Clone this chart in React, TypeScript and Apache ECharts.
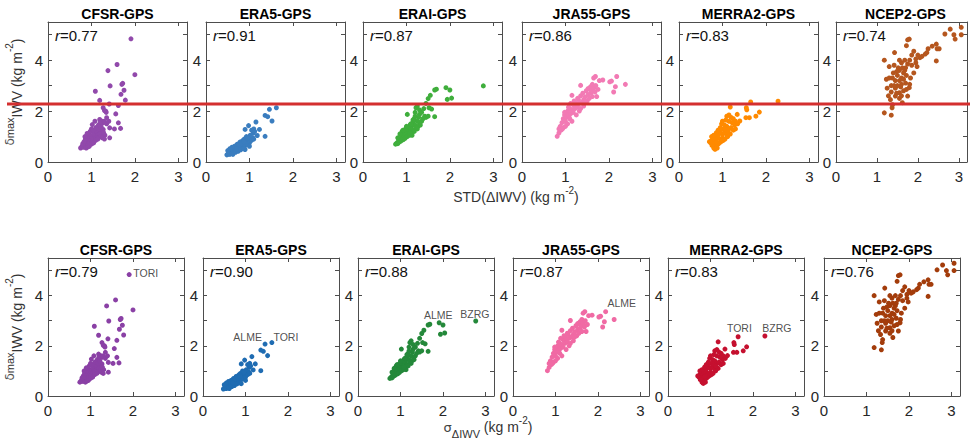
import React, { useEffect, useRef } from 'react';
import * as echarts from 'echarts';

const panelTitles = ['CFSR-GPS', 'ERA5-GPS', 'ERAI-GPS', 'JRA55-GPS', 'MERRA2-GPS', 'NCEP2-GPS'];
const rTop = ['0.77', '0.91', '0.87', '0.86', '0.83', '0.74'];
const rBottom = ['0.79', '0.90', '0.88', '0.87', '0.83', '0.76'];
const colorsTop = ['#9149ab', '#3a7dbf', '#3fae3c', '#f27ab4', '#ff8a00', '#b5561e'];
const colorsBottom = ['#8a40a5', '#1f6cb2', '#24883a', '#f06aa4', '#c5102f', '#a33c0b'];
const yTickLabels = [0, 2, 4];
const xTickLabels = [0, 1, 2, 3];

const cfsr: number[][] = [
  [1.91, 4.84], [1.59, 3.83], [1.38, 3.59], [2.0, 3.43], [1.43, 2.99], [1.72, 3.09], [1.70, 3.05], [1.68, 2.66],
  [1.75, 2.82], [1.09, 2.78], [1.19, 2.42], [1.78, 2.43], [1.62, 2.22], [1.41, 2.28], [1.27, 2.13], [1.33, 2.0],
  [1.34, 1.95], [1.30, 2.02], [1.56, 1.89], [1.19, 1.67], [1.35, 1.74], [1.27, 1.54], [1.62, 1.54], [1.02, 1.47],
  [1.08, 1.6], [1.16, 1.45], [1.42, 1.34], [1.53, 1.30], [1.67, 1.32], [1.20, 1.2], [1.27, 1.28], [1.42, 0.95],
  [1.31, 1.05], [1.12, 1.1], [1.25, 1.12], [0.75, 0.55], [0.78, 0.6], [0.8, 0.65], [0.82, 0.58], [0.85, 0.7],
  [0.87, 0.62], [0.88, 0.75], [0.9, 0.8], [0.92, 0.68], [0.93, 0.85], [0.95, 0.9], [0.96, 0.75], [0.98, 0.95],
  [1.0, 0.88], [1.0, 1.0], [1.02, 0.8], [1.03, 1.05], [1.05, 0.92], [1.06, 1.12], [1.08, 1.0], [1.1, 0.95],
  [1.12, 1.2], [1.15, 1.05], [1.17, 0.98], [1.2, 1.1], [1.22, 1.0], [1.25, 0.95], [1.28, 1.15], [1.3, 0.9],
  [0.8, 0.72], [0.83, 0.8], [0.86, 0.9], [0.9, 1.0], [0.94, 1.1], [0.97, 1.2], [1.0, 1.3], [1.04, 1.25],
  [1.1, 1.35], [0.88, 0.55], [0.92, 0.6], [0.95, 0.62], [1.0, 0.7], [1.05, 0.75], [1.1, 0.85], [1.15, 0.9],
  [0.85, 1.0], [0.9, 1.12], [1.18, 1.3], [1.22, 1.4], [1.25, 1.6], [1.2, 1.55], [1.3, 1.6], [1.35, 1.5], [1.4, 1.6],
];

const era5: number[][] = [
  [1.46, 2.07], [1.62, 2.13], [1.36, 1.83], [1.42, 1.78], [1.52, 1.61], [1.15, 1.57], [0.98, 1.43], [0.9, 1.28],
  [1.23, 1.28], [1.36, 1.01], [1.18, 1.04], [1.09, 1.14], [0.9, 0.49], [1.05, 1.25], [1.1, 1.3], [1.12, 1.2],
  [1.05, 0.95], [1.0, 1.0], [0.98, 0.85], [0.95, 0.9], [0.92, 0.8], [0.9, 0.75], [0.88, 0.9], [0.85, 0.7],
  [0.82, 0.8], [0.8, 0.65], [0.78, 0.72], [0.75, 0.6], [0.72, 0.55], [0.7, 0.65], [0.68, 0.5], [0.65, 0.55],
  [0.62, 0.45], [0.6, 0.5], [0.58, 0.4], [0.55, 0.45], [0.52, 0.35], [0.5, 0.3], [0.48, 0.28], [0.55, 0.3],
  [0.6, 0.35], [0.65, 0.4], [0.7, 0.45], [0.75, 0.5], [0.8, 0.55], [0.85, 0.6], [0.9, 0.65], [0.95, 0.7],
  [1.0, 0.75], [1.05, 0.85], [1.08, 0.95], [1.02, 1.05], [0.93, 1.0], [0.85, 0.85], [0.78, 0.78], [0.72, 0.7],
  [0.66, 0.62], [0.6, 0.58], [0.55, 0.52], [0.5, 0.45], [0.62, 0.3], [0.68, 0.38], [0.74, 0.42], [0.8, 0.48],
  [0.88, 0.52], [1.0, 0.62], [1.1, 0.9], [0.7, 0.52], [0.76, 0.68], [0.83, 0.72], [0.87, 0.78], [0.96, 0.95],
];

const erai: number[][] = [
  [2.77, 2.99], [1.69, 2.86], [1.65, 2.83], [1.91, 2.92], [2.0, 2.83], [1.94, 2.46], [2.04, 2.51], [1.55, 2.62],
  [1.5, 2.49], [1.45, 2.3], [1.52, 2.13], [1.58, 2.08], [1.65, 1.78], [1.42, 1.8], [1.22, 2.13], [1.25, 2.2],
  [1.02, 1.87], [1.3, 1.87], [1.35, 1.95], [1.4, 2.1], [1.3, 2.05], [1.2, 1.95], [1.28, 1.75], [1.25, 1.6],
  [1.3, 1.55], [1.18, 1.7], [1.15, 1.55], [1.2, 1.45], [1.12, 1.4], [1.08, 1.45], [1.1, 1.3], [1.05, 1.35],
  [1.05, 1.2], [1.0, 1.25], [1.0, 1.1], [0.98, 1.3], [0.95, 1.15], [0.95, 1.0], [0.92, 1.1], [0.9, 0.95],
  [0.9, 1.2], [0.88, 1.05], [0.85, 0.9], [0.85, 1.1], [0.82, 0.85], [0.8, 0.95], [0.78, 0.75], [0.8, 0.72],
  [0.75, 0.7], [0.83, 0.78], [0.87, 0.82], [0.93, 0.88], [0.97, 0.93], [1.02, 1.0], [1.07, 1.05], [1.12, 1.15],
  [1.17, 1.25], [1.22, 1.35], [1.27, 1.4], [1.32, 1.45], [1.35, 1.6], [1.38, 1.7], [1.45, 1.75], [1.5, 1.8],
  [1.15, 1.65], [1.2, 1.8], [1.1, 1.5], [1.0, 1.4], [0.92, 1.25], [1.13, 1.05], [1.25, 1.3], [1.18, 1.2], [1.08, 1.15],
];

const jra55: number[][] = [
  [2.38, 3.05], [2.18, 3.36], [2.06, 3.18], [2.02, 3.15], [2.15, 2.96], [2.11, 2.75], [1.86, 3.22], [1.69, 3.36],
  [1.65, 3.3], [1.78, 3.2], [1.58, 2.96], [1.52, 2.88], [1.72, 2.57], [1.62, 2.57], [1.35, 3.01], [1.15, 2.62],
  [1.42, 2.45], [1.32, 2.3], [1.18, 2.25], [1.04, 1.93], [0.85, 1.14], [0.81, 1.01], [0.95, 1.35], [0.9, 1.25],
  [0.88, 1.4], [0.92, 1.55], [0.95, 1.7], [0.98, 1.85], [1.0, 1.6], [1.02, 1.75], [1.05, 1.5], [1.05, 2.0],
  [1.08, 1.8], [1.1, 2.1], [1.12, 1.9], [1.15, 2.05], [1.18, 1.95], [1.2, 2.2], [1.22, 2.1], [1.25, 2.3],
  [1.28, 2.15], [1.3, 2.45], [1.32, 2.0], [1.35, 2.6], [1.38, 2.35], [1.4, 2.7], [1.42, 2.2], [1.45, 2.55],
  [1.48, 2.8], [1.5, 2.4], [1.52, 2.65], [1.55, 2.9], [1.58, 2.7], [1.6, 2.8], [1.62, 3.05], [1.65, 2.9],
  [1.68, 2.75], [1.7, 3.0], [1.75, 2.85], [1.0, 1.4], [0.93, 1.3], [0.97, 1.6], [1.1, 1.7], [1.15, 1.6],
  [1.25, 1.85], [1.28, 2.5], [1.12, 2.3], [1.2, 2.4], [0.85, 1.3], [0.98, 1.95], [1.07, 2.15], [1.35, 2.1],
  [1.45, 2.35], [1.55, 2.5],
];

const merra2: number[][] = [
  [2.28, 2.39], [1.65, 2.36], [1.55, 2.13], [1.56, 2.05], [1.18, 2.16], [1.85, 1.96], [1.77, 1.8], [1.62, 1.74],
  [1.54, 1.74], [1.34, 1.87], [1.4, 1.61], [1.1, 1.8], [1.15, 1.85], [1.2, 1.75], [1.25, 1.7], [1.3, 1.6],
  [1.35, 1.5], [1.28, 1.45], [1.22, 1.55], [1.15, 1.6], [1.08, 1.65], [1.05, 1.45], [1.1, 1.4], [1.15, 1.3],
  [1.2, 1.35], [1.25, 1.25], [1.02, 1.3], [0.98, 1.5], [0.95, 1.2], [1.0, 1.1], [1.05, 1.15], [1.1, 1.05],
  [0.92, 1.1], [0.9, 0.95], [0.95, 0.9], [1.0, 0.95], [0.88, 1.0], [0.85, 0.85], [0.82, 0.95], [0.8, 0.8],
  [0.78, 0.9], [0.75, 0.85], [0.73, 0.75], [0.78, 0.7], [0.82, 0.65], [0.85, 0.6], [0.8, 0.55], [0.83, 0.5],
  [0.88, 0.55], [0.9, 0.7], [0.93, 0.75], [0.97, 0.8], [1.02, 0.85], [1.06, 0.9], [1.12, 1.0], [1.18, 1.1],
  [0.75, 1.0], [0.8, 1.05], [0.86, 1.15], [0.9, 1.25], [0.95, 1.35], [1.0, 1.6], [0.87, 0.78], [0.76, 0.65],
  [0.7, 0.8], [1.08, 1.25], [1.13, 1.2], [1.3, 1.3],
];

const ncep2: number[][] = [
  [1.18, 1.93], [1.35, 1.84], [1.37, 2.13], [1.38, 2.25], [1.33, 2.45], [1.45, 2.59], [1.55, 2.72], [1.62, 2.33],
  [1.75, 2.59], [1.79, 2.92], [1.25, 2.9], [1.23, 3.25], [1.18, 4.0], [1.43, 4.3], [1.72, 4.57], [1.79, 4.83],
  [1.75, 4.8], [1.6, 3.9], [1.68, 3.6], [1.9, 3.5], [1.98, 3.75], [2.05, 4.1], [2.18, 4.24], [2.25, 4.45],
  [2.22, 4.3], [2.45, 4.63], [2.47, 4.45], [2.52, 4.45], [2.45, 3.97], [2.66, 5.03], [2.79, 5.22], [2.91, 4.83],
  [3.06, 5.0], [3.06, 5.29], [2.88, 5.0], [2.35, 4.55], [2.1, 4.15], [1.95, 4.05], [1.85, 4.2], [1.8, 4.0],
  [1.85, 3.8], [1.75, 3.85], [1.7, 3.7], [1.65, 3.5], [1.6, 3.3], [1.55, 3.6], [1.5, 3.4], [1.45, 3.2],
  [1.4, 3.5], [1.35, 3.0], [1.3, 3.3], [1.45, 2.9], [1.5, 3.0], [1.55, 3.2], [1.6, 3.05], [1.65, 3.25],
  [1.7, 3.1], [1.72, 2.85], [1.8, 3.05], [1.65, 2.8], [1.58, 2.95], [1.52, 3.7], [1.62, 3.7], [1.48, 3.55],
  [1.42, 3.8], [1.38, 3.3], [1.35, 2.75], [1.28, 2.6], [1.3, 3.75], [1.68, 4.0], [1.72, 3.4], [1.55, 2.5],
  [1.6, 2.6], [1.48, 2.7], [1.82, 3.3], [1.95, 3.9], [2.0, 4.2], [1.9, 4.35], [1.55, 4.0], [1.42, 3.0],
];

const datasets = [cfsr, era5, erai, jra55, merra2, ncep2];

// station labels in the lower row: [panel column, x, y (data units of label centre), text]
const stationLabels: [number, number, number, string][] = [
  [0, 2.3, 4.9, 'TORI'],
  [1, 1.05, 2.36, 'ALME'],
  [1, 1.95, 2.36, 'TORI'],
  [2, 1.89, 3.24, 'ALME'],
  [2, 2.75, 3.27, 'BZRG'],
  [3, 2.56, 3.7, 'ALME'],
  [4, 1.68, 2.7, 'TORI'],
  [4, 2.56, 2.7, 'BZRG'],
];

const FONT = 'Liberation Sans, Arial, Helvetica, sans-serif';

const rows = [
  { top: 22, height: 140, width: 139, lefts: [48, 206, 363, 522, 679, 836], r: rTop, colors: colorsTop },
  { top: 258, height: 138, width: 136, lefts: [48, 203, 358, 513, 668, 824], r: rBottom, colors: colorsBottom },
];

const yNameRich = {
  d: { fontSize: 12, color: '#555', lineHeight: 2, verticalAlign: 'top', fontFamily: 'DejaVu Sans', fontWeight: 'normal' },
  m: { fontSize: 11, color: '#333', lineHeight: 10, verticalAlign: 'top', fontFamily: FONT, fontWeight: 'normal' },
  b: { fontSize: 14, color: '#333', lineHeight: 26, verticalAlign: 'middle', fontFamily: FONT, fontWeight: 'normal' },
  s: { fontSize: 10, color: '#333', lineHeight: 8, verticalAlign: 'top', fontFamily: FONT, fontWeight: 'normal' },
};

function buildOption() {
  const grid: any[] = [];
  const xAxis: any[] = [];
  const yAxis: any[] = [];
  const series: any[] = [];
  const title: any[] = [];
  const axisLineStyle = { color: '#4d4d4d', width: 1 };
  rows.forEach((row, ri) => {
    row.lefts.forEach((left, ci) => {
      const gi = ri * 6 + ci;
      grid.push({ left, top: row.top, width: row.width, height: row.height, show: false });
      const xBase = {
        gridIndex: gi, type: 'value', min: 0, max: 3.2, interval: 1,
        axisLine: { show: true, onZero: false, lineStyle: axisLineStyle },
        axisTick: { show: true, inside: true, length: 4, lineStyle: axisLineStyle },
        splitLine: { show: false },
      };
      xAxis.push({
        ...xBase, position: 'bottom',
        axisLabel: {
          show: true, margin: 7, fontSize: 15, color: '#262626', fontFamily: FONT,
          formatter: (v: number) => (xTickLabels.includes(v) ? String(v) : ''),
        },
      });
      xAxis.push({ ...xBase, position: 'top', axisLabel: { show: false } });
      const yBase = {
        gridIndex: gi, type: 'value', min: 0, max: 5.5, interval: 1,
        axisLine: { show: true, onZero: false, lineStyle: axisLineStyle },
        axisTick: { show: true, inside: true, length: 4, lineStyle: axisLineStyle },
        splitLine: { show: false },
      };
      const yLeft: any = {
        ...yBase, position: 'left',
        axisLabel: {
          show: true, margin: 5, fontSize: 15, color: '#262626', fontFamily: FONT,
          formatter: (v: number) => (yTickLabels.includes(v) ? String(v) : ''),
        },
      };
      if (ci === 0) {
        yLeft.name = '{d|δ}{m|max}{b|IWV (kg m}{s|-2}{b|)}';
        yLeft.nameLocation = 'middle';
        yLeft.nameRotate = 90;
        yLeft.nameGap = 18;
        yLeft.nameTextStyle = { fontWeight: 'normal', rich: yNameRich };
      }
      yAxis.push(yLeft);
      yAxis.push({ ...yBase, position: 'right', axisLabel: { show: false } });

      series.push({
        type: 'scatter',
        xAxisIndex: 2 * gi,
        yAxisIndex: 2 * gi,
        data: datasets[ci],
        symbolSize: 5,
        itemStyle: { color: row.colors[ci], opacity: 1 },
        silent: true,
      });

      title.push({
        text: panelTitles[ci],
        left: left + row.width / 2,
        top: row.top - 15,
        textAlign: 'center',
        padding: 0,
        textStyle: { fontSize: 14, fontWeight: 'bold', color: '#000', fontFamily: FONT },
      });
      title.push({
        text: '{i|r}{n|=' + row.r[ci] + '}',
        left: left + 7,
        top: row.top + 6,
        padding: 0,
        textStyle: {
          fontWeight: 'normal',
          rich: {
            i: { fontSize: 15, fontStyle: 'italic', fontWeight: 'normal', color: '#111', fontFamily: FONT },
            n: { fontSize: 15, fontWeight: 'normal', color: '#111', fontFamily: FONT },
          },
        },
      });
    });
  });

  // station name labels on the lower row
  const labelByCol: Record<number, any[]> = {};
  stationLabels.forEach(([c, x, y, t]) => {
    (labelByCol[c] = labelByCol[c] || []).push({ value: [x, y], name: t });
  });
  Object.keys(labelByCol).forEach((k) => {
    const gi = 6 + Number(k);
    series.push({
      type: 'scatter',
      xAxisIndex: 2 * gi,
      yAxisIndex: 2 * gi,
      data: labelByCol[Number(k)],
      symbolSize: 0,
      silent: true,
      itemStyle: { color: 'rgba(0,0,0,0)' },
      label: {
        show: true, position: 'inside', formatter: (p: any) => p.name,
        fontSize: 10.5, color: '#222', fontFamily: FONT,
      },
    });
  });

  const nrm = { fontWeight: 'normal', fontFamily: FONT, color: '#333' };
  // x-axis titles
  title.push({
    text: '{b|STD(ΔIWV) (kg m}{s|-2}{b|)}',
    left: 516, top: 185, textAlign: 'center', padding: 0,
    textStyle: {
      fontWeight: 'normal',
      rich: {
        b: { ...nrm, fontSize: 14, lineHeight: 24, verticalAlign: 'middle' },
        s: { ...nrm, fontSize: 10, lineHeight: 8, verticalAlign: 'top' },
      },
    },
  });
  title.push({
    text: '{g|σ}{sub|ΔIWV}{b| (kg m}{s|-2}{b|)}',
    left: 488, top: 415, textAlign: 'center', padding: 0,
    textStyle: {
      fontWeight: 'normal',
      rich: {
        g: { ...nrm, fontSize: 13, color: '#444', lineHeight: 24, verticalAlign: 'middle', fontFamily: 'DejaVu Sans' },
        sub: { ...nrm, fontSize: 11, lineHeight: 8, verticalAlign: 'bottom' },
        b: { ...nrm, fontSize: 14, lineHeight: 24, verticalAlign: 'middle' },
        s: { ...nrm, fontSize: 10, lineHeight: 8, verticalAlign: 'top' },
      },
    },
  });

  return {
    animation: false,
    backgroundColor: '#fff',
    title,
    grid,
    xAxis,
    yAxis,
    series,
    graphic: [
      {
        type: 'line',
        z: 100,
        shape: { x1: 7, y1: 104, x2: 970, y2: 104 },
        style: { stroke: '#d42f2f', lineWidth: 3 },
        silent: true,
      },
    ],
  };
}

export default function App() {
  const ref = useRef<HTMLDivElement>(null);
  useEffect(() => {
    if (!ref.current) return;
    const chart = echarts.init(ref.current, undefined, { renderer: 'svg' });
    chart.setOption(buildOption() as any);
    return () => chart.dispose();
  }, []);
  return (
    <div
      ref={ref}
      style={{ position: 'absolute', left: 0, top: 0, width: 970, height: 445, background: '#fff' }}
    />
  );
}
